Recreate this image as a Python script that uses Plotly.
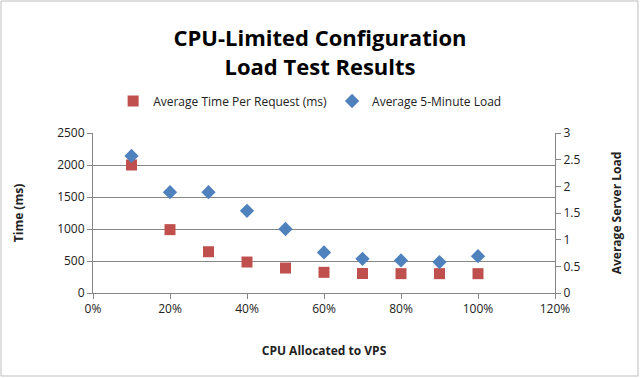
import plotly.graph_objects as go

cpu = [0.1, 0.2, 0.3, 0.4, 0.5, 0.6, 0.7, 0.8, 0.9, 1.0]
time_ms = [2000, 990, 645, 484, 390, 323, 305, 302, 302, 302]
load = [2.57, 1.89, 1.89, 1.54, 1.2, 0.76, 0.64, 0.61, 0.58, 0.69]

L, R, T, B = 93, 85, 133, 85
W, H = 640, 378
pw, ph = W - L - R, H - T - B

fig = go.Figure()
fig.add_trace(go.Scatter(x=cpu, y=time_ms, mode="markers", name="Average Time Per Request (ms)",
                         marker=dict(symbol="square", size=11, color="#C0504D"), yaxis="y"))
fig.add_trace(go.Scatter(x=cpu, y=load, mode="markers", name="Average 5-Minute Load",
                         marker=dict(symbol="diamond", size=11, color="#4F81BD"), yaxis="y2"))

font = "Open Sans, Lato, sans-serif"
axis_common = dict(showline=True, linecolor="#868686", linewidth=1, ticks="outside",
                   ticklen=5, tickcolor="#868686", tickfont=dict(size=12, color="#222", family=font),
                   zeroline=False)
tfont = dict(size=12, family=font, color="#222")

fig.update_layout(
    width=W, height=H, margin=dict(l=L, r=R, t=T, b=B),
    paper_bgcolor="white", plot_bgcolor="white",
    showlegend=True,
    legend=dict(orientation="h", x=0.47, xanchor="center", y=(ph + 32) / ph, yanchor="middle",
                font=dict(size=12, color="#222", family=font), itemwidth=30, tracegroupgap=0),
    title=dict(text="<b>CPU-Limited Configuration<br>Load Test Results</b>", x=0.5, xanchor="center",
               y=1 - 46 / H, yanchor="middle",
               font=dict(size=22, color="#000", family="Open Sans, sans-serif")),
    xaxis=dict(range=[0, 1.2], dtick=0.2, tickformat=".0%", showgrid=False,
               title=dict(text="<b>CPU Allocated to VPS</b>", font=tfont, standoff=30),
               **axis_common),
    yaxis=dict(range=[0, 2500], dtick=500, showgrid=True, gridcolor="#868686", gridwidth=1,
               title=dict(text="<b>Time (ms)</b>", font=tfont, standoff=30),
               **axis_common),
    yaxis2=dict(range=[0, 3], dtick=0.5, overlaying="y", side="right", showgrid=False,
                title=dict(text="<b>Average Server Load</b>", font=tfont, standoff=33),
                **axis_common),
    shapes=[dict(type="rect", xref="paper", yref="paper",
                 x0=(1 - L) / pw, x1=(W - 2 - L) / pw,
                 y0=(T + ph - (H - 2)) / ph, y1=(T + ph - 1) / ph,
                 line=dict(color="#BFBFBF", width=1), fillcolor="rgba(0,0,0,0)", layer="below")],
)

fig.write_html("out.html")
